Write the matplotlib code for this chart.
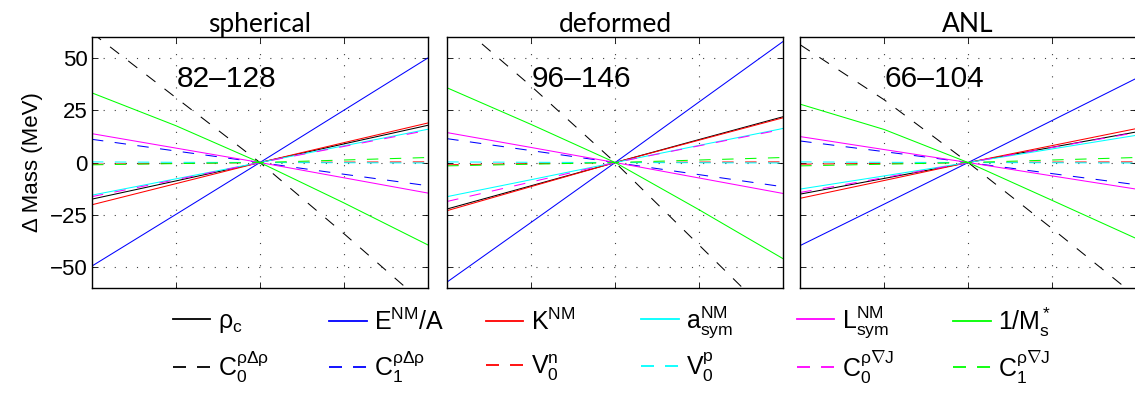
from matplotlib import pyplot as plt  # For graphing

plt.rcParams['font.family'] = ['Liberation Sans', 'DejaVu Sans']
plt.rcParams['mathtext.fontset'] = 'custom'  # Helvetica-like maths for the legend
plt.rcParams['mathtext.rm'] = 'Liberation Sans'
plt.rcParams['mathtext.it'] = 'Liberation Sans'
plt.rcParams['mathtext.sf'] = 'Liberation Sans'

# Data, x = relative parameter change, one list per panel
x = [-1, -0.5, 0, 0.5, 1]
panels = ["spherical", "deformed", "ANL"]
ranges = ["82\u2013128", "96\u2013146", "66\u2013104"]

rho_c = [[-17.5, -8.8, 0, 8.9, 17.8], [-22.2, -11.1, 0, 11.0, 21.9], [-15.1, -7.6, 0, 7.3, 14.6]]
e_nm = [[-49.5, -24.8, 0, 25.0, 50.0], [-57.1, -28.6, 0, 29.0, 57.9], [-39.7, -19.9, 0, 20.1, 40.2]]
k_nm = [[-20.2, -10.1, 0, 9.5, 18.9], [-23.0, -11.5, 0, 10.7, 21.4], [-17.1, -8.6, 0, 8.1, 16.2]]
a_sym = [[-15.6, -7.8, 0, 8.0, 15.9], [-16.3, -8.2, 0, 8.2, 16.3], [-12.7, -6.4, 0, 6.5, 13.0]]
l_sym = [[13.8, 6.9, 0, -7.3, -14.6], [14.3, 7.2, 0, -7.4, -14.8], [12.4, 6.2, 0, -6.4, -12.7]]
inv_ms = [[33.3, 17.6, 0, -19.3, -39.4], [35.7, 18.2, 0, -22.6, -46.0], [27.9, 15.8, 0, -18.1, -36.3]]
c0_rdr = [[62.0, 31.0, 0, -34.0, -69.0], [71.0, 36.5, 0, -39.5, -79.0], [56.3, 30.0, 0, -31.6, -64.0]]
c1_rdr = [[11.1, 5.5, 0, -5.6, -11.1], [11.4, 5.7, 0, -5.8, -11.6], [10.3, 5.2, 0, -5.3, -10.6]]
v0_n = [[-0.8, -0.4, 0, 0.2, 0.3], [-1.1, -0.5, 0, 0.2, 0.3], [-0.8, -0.4, 0, 0.2, 0.3]]
v0_p = [[0.3, 0.1, 0, -0.1, -0.2], [0.3, 0.1, 0, -0.1, -0.2], [0.3, 0.1, 0, -0.1, -0.2]]
c0_rdj = [[-16.3, -8.2, 0, 7.7, 15.4], [-18.6, -9.3, 0, 8.0, 15.9], [-14.3, -7.2, 0, 7.2, 14.3]]
c1_rdj = [[-1.1, -0.5, 0, 1.2, 2.4], [-1.6, -0.8, 0, 1.2, 2.4], [-1.6, -0.8, 0, 1.2, 2.4]]

# (values, colour, dashed?, legend label) - ordered column by column for the legend
series = [
    (rho_c, 'k', False, r'$\rho_\mathrm{c}$'),
    (c0_rdr, 'k', True, r'$\mathrm{C}_0^{\rho\Delta\rho}$'),
    (e_nm, '#0000ff', False, r'$\mathrm{E}^\mathrm{NM}/\mathrm{A}$'),
    (c1_rdr, '#0000ff', True, r'$\mathrm{C}_1^{\rho\Delta\rho}$'),
    (k_nm, '#ff0000', False, r'$\mathrm{K}^\mathrm{NM}$'),
    (v0_n, '#ff0000', True, r'$\mathrm{V}_0^\mathrm{n}$'),
    (a_sym, '#00ffff', False, r'$\mathrm{a}_\mathrm{sym}^\mathrm{NM}$'),
    (v0_p, '#00ffff', True, r'$\mathrm{V}_0^\mathrm{p}$'),
    (l_sym, '#ff00ff', False, r'$\mathrm{L}_\mathrm{sym}^\mathrm{NM}$'),
    (c0_rdj, '#ff00ff', True, r'$\mathrm{C}_0^{\rho\nabla\mathrm{J}}$'),
    (inv_ms, '#00ff00', False, r'$1/\mathrm{M}_\mathrm{s}^*$'),
    (c1_rdj, '#00ff00', True, r'$\mathrm{C}_1^{\rho\nabla\mathrm{J}}$'),
]

fig = plt.figure(figsize=(11.35, 3.94), dpi=100)
lefts = [0.081, 0.394, 0.705]

handles = []
for i, name in enumerate(panels):
    ax = fig.add_axes([lefts[i], 0.269, 0.296, 0.637])
    for values, colour, dashed, label in series:
        style = (0, (11, 11)) if dashed else '-'
        line, = ax.plot(x, values[i], color=colour, linestyle=style, linewidth=0.75, label=label)
        if i == 0:
            handles.append(line)

    ax.set_xlim(-1, 1)
    ax.set_ylim(-60, 60)
    ax.set_xticks([-0.5, 0, 0.5])
    ax.set_xticklabels([])
    ax.set_yticks([-50, -25, 0, 25, 50])
    if i > 0:
        ax.set_yticklabels([])
    ax.tick_params(direction='in', top=True, right=True, labelsize=16, length=4, width=0.6, pad=3)
    ax.grid(True, color='0.25', linestyle=(0, (1, 9)), linewidth=0.8)
    for spine in ax.spines.values():
        spine.set_linewidth(1.0)

    ax.set_title(name, fontsize=19, family=['Lato', 'DejaVu Sans'], pad=3)
    ax.text(-0.2, 40, ranges[i], fontsize=21.5, ha='center', va='center')

    if i == 0:
        ax.set_ylabel("\u0394 Mass (MeV)", fontsize=16, labelpad=5)

# Legend under the panels: 6 evenly spaced columns, solid on top row, dashed below
col_x = [0.152, 0.290, 0.428, 0.565, 0.702, 0.840]
row_y = [0.183, 0.068]
for k, h in enumerate(handles):
    leg = fig.legend(handles=[h], loc='center left', bbox_to_anchor=(col_x[k // 2], row_y[k % 2]),
                     frameon=False, fontsize=18, handlelength=1.5, handletextpad=0.3,
                     borderpad=0, borderaxespad=0)
    for line in leg.get_lines():
        line.set_linewidth(1.3)
        line.set_color(h.get_color())
        if k % 2 == 1:
            line.set_linestyle((0, (7.2, 6.1)))  # two dashes in the legend sample

fig.savefig("out.png", dpi=100)
